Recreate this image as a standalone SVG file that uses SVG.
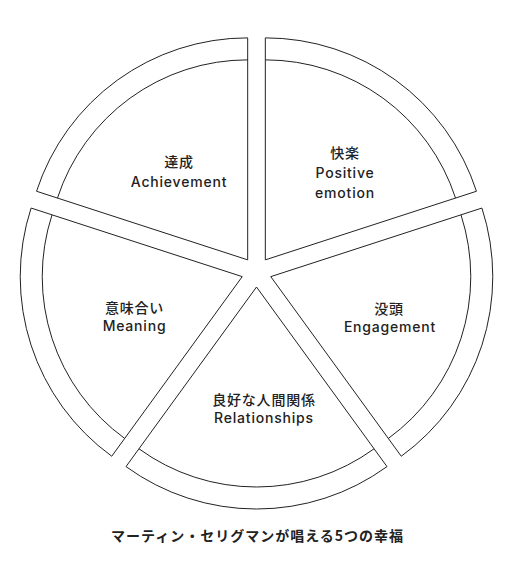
<svg xmlns="http://www.w3.org/2000/svg" width="513" height="578" viewBox="0 0 513 578">
<style>
.w{fill:#fff;stroke:#222;stroke-width:1;stroke-linejoin:miter}
.a{fill:none;stroke:#222;stroke-width:1}
.t{font-family:Inter,"Noto Sans CJK JP",sans-serif;font-size:14px;font-weight:500;fill:#222;text-anchor:middle;letter-spacing:0.8px}
.h{font-family:"Noto Sans CJK JP",sans-serif;font-size:14px;font-weight:700;fill:#222;text-anchor:middle;letter-spacing:1px}
</style>
<rect width="513" height="578" fill="#fff"/>
<g id="achievement">
<path class="w" d="M247.68,259.86 L36.54,191.26 A222,222 0 0 1 247.68,37.86 Z"/>
<path class="a" d="M57.47,198.06 A200,200 0 0 1 247.68,59.86"/>
<text class="t" x="179" y="167">達成</text>
<text class="t" x="179" y="187">Achievement</text>
</g>
<g id="positive-emotion">
<path class="w" d="M265.32,259.86 L265.32,37.86 A222,222 0 0 1 476.46,191.26 Z"/>
<path class="a" d="M265.32,59.86 A200,200 0 0 1 455.53,198.06"/>
<text class="t" x="345" y="158">快楽</text>
<text class="t" x="345" y="178">Positive</text>
<text class="t" x="345" y="198">emotion</text>
</g>
<g id="engagement">
<path class="w" d="M270.77,276.64 L481.91,208.04 A222,222 0 0 1 401.26,456.24 Z"/>
<path class="a" d="M460.98,214.84 A200,200 0 0 1 388.33,438.44"/>
<text class="t" x="389" y="314">没頭</text>
<text class="t" x="390" y="332">Engagement</text>
</g>
<g id="relationships">
<path class="w" d="M256.5,287 L387,466.6 A222,222 0 0 1 126,466.6 Z"/>
<path class="a" d="M374.06,448.8 A200,200 0 0 1 138.94,448.8"/>
<text class="t" x="264" y="405">良好な人間関係</text>
<text class="t" x="264" y="423">Relationships</text>
</g>
<g id="meaning">
<path class="w" d="M242.23,276.64 L111.74,456.24 A222,222 0 0 1 31.09,208.04 Z"/>
<path class="a" d="M124.67,438.44 A200,200 0 0 1 52.02,214.84"/>
<text class="t" x="134.5" y="313">意味合い</text>
<text class="t" x="134.5" y="331">Meaning</text>
</g>
<g id="connectors"></g>
<text class="h" x="257.5" y="541">マーティン・セリグマンが唱える5つの幸福</text>
</svg>
